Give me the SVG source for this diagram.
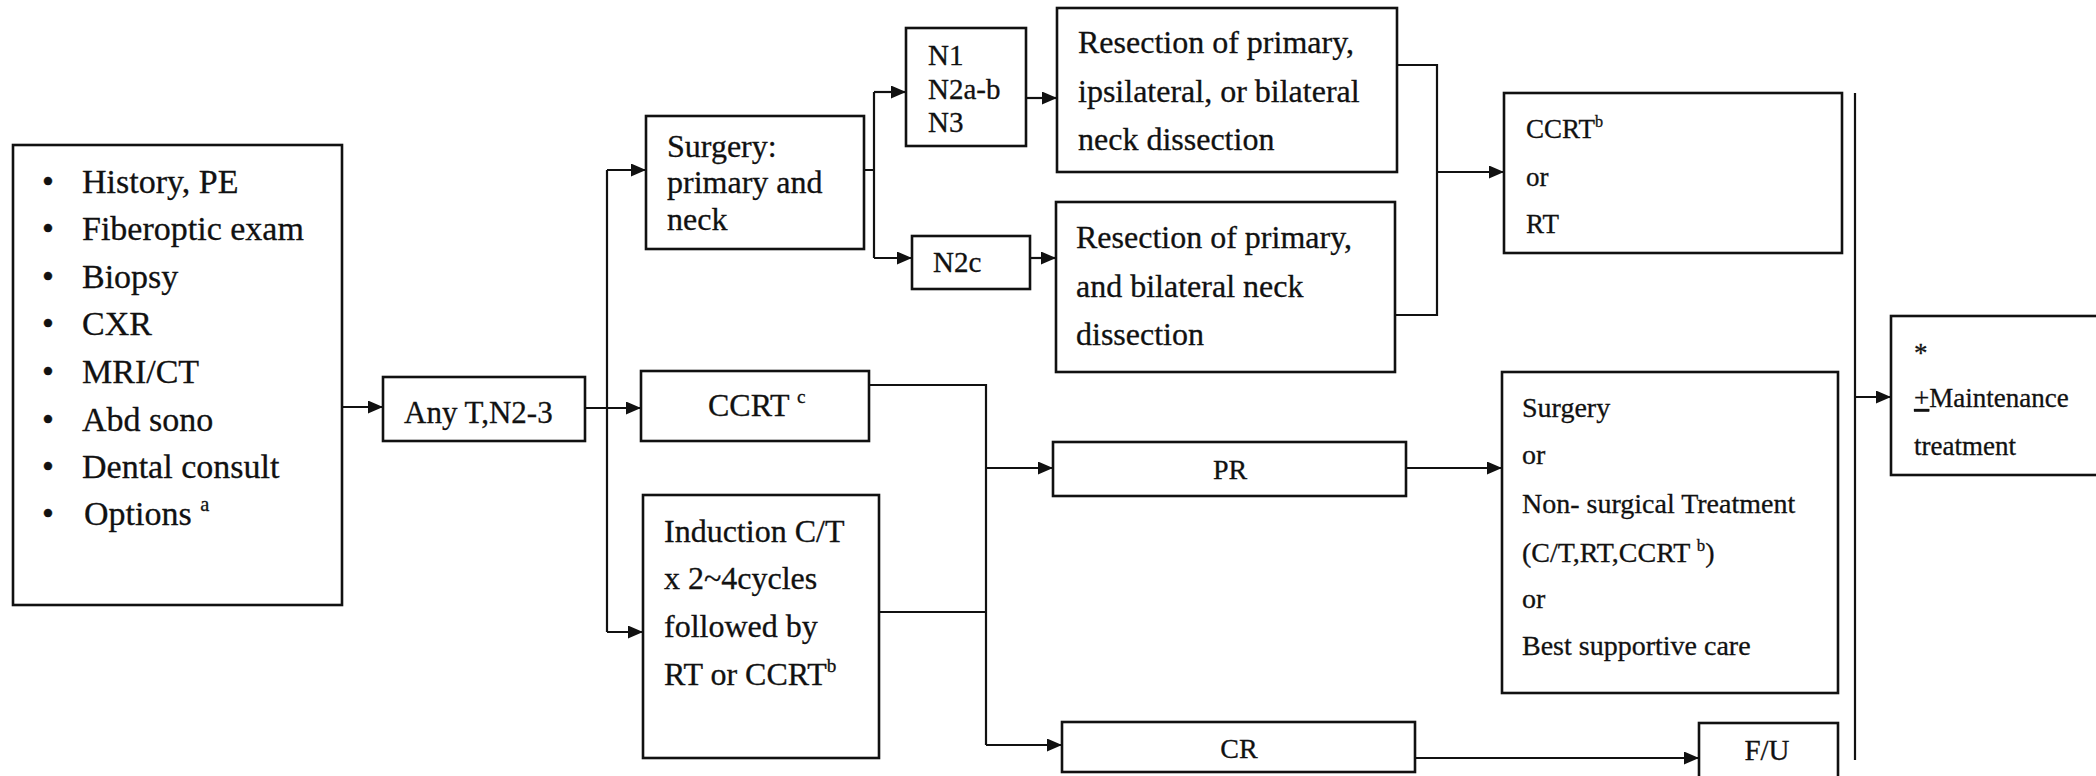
<svg xmlns="http://www.w3.org/2000/svg" width="2096" height="776" viewBox="0 0 2096 776" font-family="'Liberation Serif', 'Times New Roman', Times, serif">
  <defs>
    <style>
      .box { fill: #fff; stroke: #111; stroke-width: 2.6; }
      .wire { fill: none; stroke: #111; stroke-width: 2.2; }
      .arrow { fill: none; stroke: #111; stroke-width: 2.2; marker-end: url(#head); }
      text { font-family: 'Liberation Serif', 'Times New Roman', Times, serif; fill: #111; stroke: #111; stroke-width: 0.3; }
      .f34 { font-size: 34px; }
      .f32 { font-size: 32px; }
      .f31 { font-size: 31px; }
      .f29 { font-size: 29px; }
      .f28 { font-size: 28px; }
      .f27 { font-size: 27px; }
      .bul { font-size: 34px; }
      .sup { font-size: 0.6em; }
      .mid { text-anchor: middle; }
    </style>
    <marker id="head" markerUnits="userSpaceOnUse" markerWidth="15" markerHeight="13" refX="15" refY="6.5" orient="auto">
      <path d="M0,0 L15,6.5 L0,13 Z" fill="#111"/>
    </marker>
  </defs>

  <rect width="2096" height="776" fill="#fff"/>

  <!-- connectors -->
  <g id="connectors">
    <path class="arrow" d="M342,407 H383"/>
    <path class="wire" d="M607,170 V632"/>
    <path class="arrow" d="M607,170 H646"/>
    <path class="arrow" d="M585,408 H641"/>
    <path class="arrow" d="M607,632 H643"/>
    <path class="wire" d="M864,170 H874 M874,92 V258"/>
    <path class="arrow" d="M874,92 H906"/>
    <path class="arrow" d="M874,258 H912"/>
    <path class="arrow" d="M1026,98 H1057"/>
    <path class="arrow" d="M1030,258 H1056"/>
    <path class="wire" d="M1397,65 H1437 V315 H1395"/>
    <path class="arrow" d="M1437,172 H1504"/>
    <path class="wire" d="M869,385 H986 V745 M879,612 H986"/>
    <path class="arrow" d="M986,468 H1053"/>
    <path class="arrow" d="M986,745 H1062"/>
    <path class="arrow" d="M1406,468 H1502"/>
    <path class="arrow" d="M1415,758 H1699"/>
    <path class="wire" d="M1855,93 V760"/>
    <path class="arrow" d="M1855,397 H1891"/>
  </g>

  <!-- work-up -->
  <g id="workup">
    <rect class="box" x="13" y="145" width="329" height="460"/>
    <g class="bul">
      <text x="42" y="193">•</text>
      <text x="42" y="240">•</text>
      <text x="42" y="288">•</text>
      <text x="42" y="335">•</text>
      <text x="42" y="383">•</text>
      <text x="42" y="431">•</text>
      <text x="42" y="478">•</text>
      <text x="42" y="525">•</text>
    </g>
    <g class="f34">
      <text x="82" y="193">History, PE</text>
      <text x="82" y="240">Fiberoptic exam</text>
      <text x="82" y="288">Biopsy</text>
      <text x="82" y="335">CXR</text>
      <text x="82" y="383">MRI/CT</text>
      <text x="82" y="431">Abd sono</text>
      <text x="82" y="478">Dental consult</text>
      <text x="84" y="525">Options <tspan class="sup" dy="-14">a</tspan></text>
    </g>
  </g>

  <g id="stage">
    <rect class="box" x="383" y="377" width="202" height="64"/>
    <text class="f31" x="404" y="423">Any T,N2-3</text>
  </g>

  <g id="surgery">
    <rect class="box" x="646" y="116" width="218" height="133"/>
    <text class="f32" x="667" y="157">Surgery:</text>
    <text class="f32" x="667" y="193">primary and</text>
    <text class="f32" x="667" y="230">neck</text>
  </g>

  <g id="ccrt-primary">
    <rect class="box" x="641" y="371" width="228" height="70"/>
    <text class="f32" x="708" y="416">CCRT <tspan class="sup" dy="-13">c</tspan></text>
  </g>

  <g id="induction">
    <rect class="box" x="643" y="495" width="236" height="263"/>
    <text class="f32" x="664" y="542">Induction C/T</text>
    <text class="f32" x="664" y="589">x 2~4cycles</text>
    <text class="f32" x="664" y="637">followed by</text>
    <text class="f32" x="664" y="685">RT or CCRT<tspan class="sup" dy="-13">b</tspan></text>
  </g>

  <g id="n-ipsi">
    <rect class="box" x="906" y="28" width="120" height="118"/>
    <text class="f29" x="928" y="65">N1</text>
    <text class="f29" x="928" y="99">N2a-b</text>
    <text class="f29" x="928" y="132">N3</text>
  </g>

  <g id="n-bilat">
    <rect class="box" x="912" y="236" width="118" height="53"/>
    <text class="f29" x="933" y="272">N2c</text>
  </g>

  <g id="resection-ipsi">
    <rect class="box" x="1057" y="8" width="340" height="164"/>
    <text class="f32" x="1078" y="53">Resection of primary,</text>
    <text class="f32" x="1078" y="102">ipsilateral, or bilateral</text>
    <text class="f32" x="1078" y="150">neck dissection</text>
  </g>

  <g id="resection-bilat">
    <rect class="box" x="1056" y="202" width="339" height="170"/>
    <text class="f32" x="1076" y="248">Resection of primary,</text>
    <text class="f32" x="1076" y="297">and bilateral neck</text>
    <text class="f32" x="1076" y="345">dissection</text>
  </g>

  <g id="adjuvant">
    <rect class="box" x="1504" y="93" width="338" height="160"/>
    <text class="f27" x="1526" y="138">CCRT<tspan class="sup" dy="-11">b</tspan></text>
    <text class="f27" x="1526" y="186">or</text>
    <text class="f27" x="1526" y="233">RT</text>
  </g>

  <g id="pr">
    <rect class="box" x="1053" y="442" width="353" height="54"/>
    <text class="f28 mid" x="1230" y="479">PR</text>
  </g>

  <g id="salvage">
    <rect class="box" x="1502" y="372" width="336" height="321"/>
    <text class="f28" x="1522" y="417">Surgery</text>
    <text class="f28" x="1522" y="464">or</text>
    <text class="f28" x="1522" y="513">Non- surgical Treatment</text>
    <text class="f28" x="1522" y="562">(C/T,RT,CCRT <tspan class="sup" dy="-11">b</tspan><tspan dy="11">)</tspan></text>
    <text class="f28" x="1522" y="608">or</text>
    <text class="f28" x="1522" y="655">Best supportive care</text>
  </g>

  <g id="cr">
    <rect class="box" x="1062" y="722" width="353" height="50"/>
    <text class="f28 mid" x="1239" y="758">CR</text>
  </g>

  <g id="follow-up">
    <rect class="box" x="1699" y="723" width="139" height="70"/>
    <text class="f29 mid" x="1767" y="760">F/U</text>
  </g>

  <g id="maintenance">
    <rect class="box" x="1891" y="316" width="230" height="159"/>
    <text class="f27" x="1914" y="362">*</text>
    <text class="f27" x="1914" y="407"><tspan text-decoration="underline">+</tspan>Maintenance</text>
    <text class="f27" x="1914" y="455">treatment</text>
  </g>
</svg>
